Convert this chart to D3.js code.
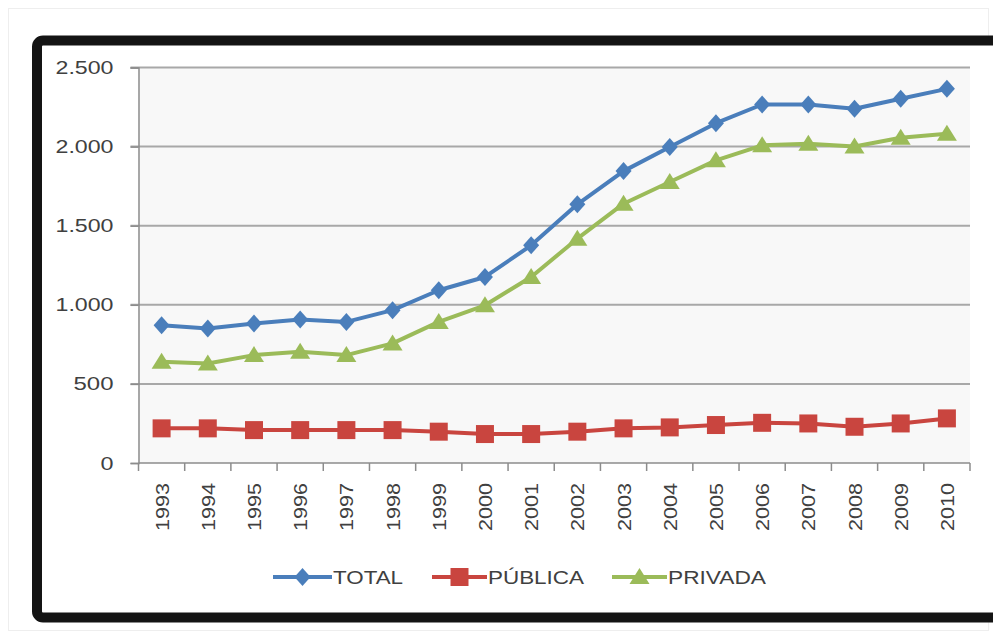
<!DOCTYPE html>
<html><head><meta charset="utf-8">
<script src="https://cdn.jsdelivr.net/npm/d3@7"></script>
<style>html,body{margin:0;padding:0;background:#fff;}svg{display:block;}</style>
</head><body>
<svg id="chart" width="993" height="637"></svg>
<script>
const years = ["1993","1994","1995","1996","1997","1998","1999","2000","2001","2002","2003","2004","2005","2006","2007","2008","2009","2010"];
const total   = [870, 850, 882, 907, 892, 966, 1092, 1176, 1376, 1635, 1845, 1997, 2148, 2266, 2266, 2239, 2302, 2365];
const publica = [219, 219, 208, 208, 208, 208, 198, 183, 183, 198, 219, 225, 240, 254, 250, 229, 250, 282];
const privada = [640, 629, 682, 703, 682, 756, 892, 997, 1176, 1418, 1639, 1776, 1913, 2008, 2018, 2001, 2056, 2081];
const yTicks = [0, 500, 1000, 1500, 2000, 2500];
const yTickLabels = ["0", "500", "1.000", "1.500", "2.000", "2.500"];
const seriesNames = ["TOTAL", "PÚBLICA", "PRIVADA"];

(function () {
const svg = d3.select("#chart");
const colors = ["#4A7EBB", "#C9453F", "#9BBB59"];
const font = "'Liberation Sans', Arial, sans-serif";

svg.append("rect").attr("x", 8.5).attr("y", 8.5).attr("width", 980).attr("height", 622)
  .attr("fill", "none").attr("stroke", "#eeeeee").attr("stroke-width", 1);

svg.append("rect").attr("x", 37).attr("y", 40.5).attr("width", 1000).attr("height", 577)
  .attr("rx", 6).attr("fill", "#fff").attr("stroke", "#141414").attr("stroke-width", 10);

const pLeft = 138.5, pRight = 970, pTop = 67.5, pBottom = 463;
const x = d3.scaleBand().domain(years).range([pLeft, pRight]);
const y = d3.scaleLinear().domain([0, 2500]).range([pBottom, pTop]);

svg.append("rect").attr("x", pLeft).attr("y", pTop).attr("width", pRight - pLeft).attr("height", pBottom - pTop)
  .attr("fill", "#f8f8f8");

svg.append("g").selectAll("line").data(yTicks.filter(d => d > 0)).join("line")
  .attr("x1", pLeft - 8).attr("x2", pRight)
  .attr("y1", d => y(d)).attr("y2", d => y(d))
  .attr("stroke", "#a8a8a8").attr("stroke-width", 2);

const yAxis = d3.axisLeft(y).tickValues(yTicks).tickSize(8).tickPadding(17)
  .tickFormat((d, i) => yTickLabels[i]);
const gy = svg.append("g").attr("transform", `translate(${pLeft},0)`).call(yAxis);
gy.select(".domain").attr("stroke", "#8c8c8c").attr("stroke-width", 1.5);
gy.selectAll(".tick line").attr("stroke", "#8c8c8c").attr("stroke-width", 1.5);
gy.selectAll(".tick text").attr("font-family", font).attr("font-size", 19).attr("fill", "#404040")
  .each(function() {
    const t = d3.select(this).text();
    const w = t.length === 5 ? 58 : t.length === 3 ? 40 : 13;
    d3.select(this).attr("textLength", w).attr("lengthAdjust", "spacingAndGlyphs");
  });

const xAxisG = svg.append("g").attr("transform", `translate(0,${pBottom})`);
xAxisG.append("line").attr("x1", pLeft).attr("x2", pRight).attr("y1", 0).attr("y2", 0)
  .attr("stroke", "#8c8c8c").attr("stroke-width", 1.5);
const bounds = years.map(d => x(d)).concat([pRight]);
xAxisG.selectAll("line.tk").data(bounds).join("line").attr("class", "tk")
  .attr("x1", d => d).attr("x2", d => d).attr("y1", 0).attr("y2", 8)
  .attr("stroke", "#8c8c8c").attr("stroke-width", 1.5);
xAxisG.selectAll("text").data(years).join("text")
  .attr("transform", d => `translate(${x(d) + x.bandwidth() / 2 + 7},20) rotate(-90)`)
  .attr("text-anchor", "end")
  .attr("font-family", font).attr("font-size", 19).attr("fill", "#404040")
  .attr("textLength", 48).attr("lengthAdjust", "spacingAndGlyphs")
  .text(d => d);

const data = [total, publica, privada];
const cx = i => x(years[i]) + x.bandwidth() / 2;
const line = d3.line().x((d, i) => cx(i)).y(d => y(d));
const markerPath = [
  "M0,-9L8,0L0,9L-8,0Z",
  "M-9,-9L9,-9L9,9L-9,9Z",
  "M0,-9L10,7L-10,7Z"
];
data.forEach((vals, s) => {
  svg.append("path").datum(vals).attr("d", line).attr("fill", "none")
    .attr("stroke", colors[s]).attr("stroke-width", 4).attr("stroke-linejoin", "round");
  svg.append("g").selectAll("path").data(vals).join("path")
    .attr("transform", (d, i) => `translate(${cx(i)},${y(d)})`)
    .attr("d", markerPath[s]).attr("fill", colors[s]);
});

const legendItems = [
  {x0: 273, x1: 332, tx: 333, tw: 70},
  {x0: 432, x1: 487, tx: 488, tw: 96},
  {x0: 612, x1: 667, tx: 668, tw: 98}
];
const ly = 577;
legendItems.forEach((it, s) => {
  const g = svg.append("g");
  g.append("line").attr("x1", it.x0).attr("x2", it.x1).attr("y1", ly).attr("y2", ly)
    .attr("stroke", colors[s]).attr("stroke-width", 4);
  g.append("path").attr("transform", `translate(${(it.x0 + it.x1) / 2},${ly})`)
    .attr("d", markerPath[s]).attr("fill", colors[s]);
  g.append("text").attr("x", it.tx).attr("y", ly + 7)
    .attr("font-family", font).attr("font-size", 19).attr("fill", "#404040")
    .attr("textLength", it.tw).attr("lengthAdjust", "spacingAndGlyphs")
    .text(seriesNames[s]);
});
})();
</script>
</body></html>
